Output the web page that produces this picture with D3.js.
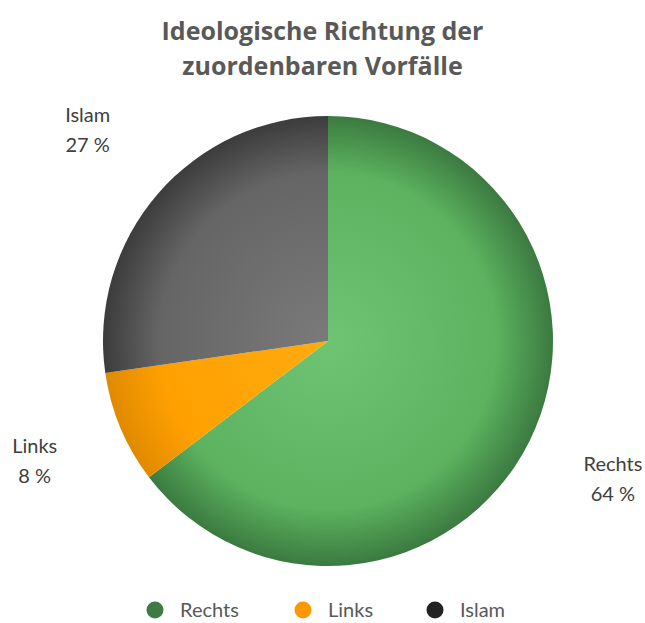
<!DOCTYPE html>
<html>
<head>
<meta charset="utf-8">
<script src="https://cdn.jsdelivr.net/npm/d3@7"></script>
<style>
  html, body { margin: 0; padding: 0; background: #fff; }
  svg { display: block; }
</style>
</head>
<body>
<script>
// Ideological direction of attributable incidents
const categories = ["Rechts", "Links", "Islam"];
const shares = [64, 8, 27];
const valueLabels = ["64 %", "8 %", "27 %"];
const titleLines = ["Ideologische Richtung der", "zuordenbaren Vorfälle"];

const W = 645, H = 623;
const cx = 328, cy = 341, R = 225, labelR = 318;

// light centre, mid tone, dark rim for each slice
const shades = {
  Rechts: ["#6fc474", "#5cb25f", "#3b7a40"],
  Links:  ["#ffab10", "#ffa000", "#e08a00"],
  Islam:  ["#7a7a7a", "#656565", "#3c3c3c"]
};
const legendColors = { Rechts: "#3f7a45", Links: "#ff9800", Islam: "#222222" };
const labelFont = "Lato, 'Open Sans', sans-serif";

const svg = d3.select("body").append("svg")
  .attr("width", W).attr("height", H);

const defs = svg.append("defs");
categories.forEach((c, i) => {
  const g = defs.append("radialGradient")
    .attr("id", "grad" + i)
    .attr("gradientUnits", "userSpaceOnUse")
    .attr("cx", 0).attr("cy", 0).attr("r", R)
    .attr("fx", 0).attr("fy", 0);
  g.append("stop").attr("offset", "0%").attr("stop-color", shades[c][0]);
  g.append("stop").attr("offset", "75%").attr("stop-color", shades[c][1]);
  g.append("stop").attr("offset", "100%").attr("stop-color", shades[c][2]);
});

// title
svg.append("text")
  .attr("x", W / 2).attr("y", 40)
  .attr("text-anchor", "middle")
  .attr("font-family", "'Open Sans', sans-serif")
  .attr("font-weight", 700)
  .attr("font-size", 25)
  .attr("fill", "#595959")
  .selectAll("tspan").data(titleLines).join("tspan")
  .attr("x", W / 2)
  .attr("dy", (d, i) => i === 0 ? 0 : 35)
  .text(d => d);

const data = categories.map((c, i) => ({ cat: c, value: shares[i], label: valueLabels[i], idx: i }));
const pie = d3.pie().value(d => d.value).sort(null);
const arcs = pie(data);
const arc = d3.arc().innerRadius(0).outerRadius(R);
const labelArc = d3.arc().innerRadius(labelR).outerRadius(labelR);

const g = svg.append("g").attr("transform", `translate(${cx},${cy})`);
g.selectAll("path").data(arcs).join("path")
  .attr("d", arc)
  .attr("fill", d => `url(#grad${d.data.idx})`);

// slice labels
const lab = svg.append("g").attr("transform", `translate(${cx},${cy})`);
arcs.forEach(d => {
  const [x, y] = labelArc.centroid(d);
  const t = lab.append("text")
    .attr("x", x).attr("y", y - 11)
    .attr("text-anchor", "middle")
    .attr("font-family", labelFont)
    .attr("font-size", 20)
    .attr("fill", "#404040");
  t.append("tspan").attr("x", x).text(d.data.cat);
  t.append("tspan").attr("x", x).attr("dy", 30).text(d.data.label);
});

// legend
const legendX = [155, 303, 435];
const lg = svg.append("g");
categories.forEach((c, i) => {
  lg.append("circle")
    .attr("cx", legendX[i]).attr("cy", 610).attr("r", 8.5)
    .attr("fill", legendColors[c]);
  lg.append("text")
    .attr("x", legendX[i] + 25).attr("y", 617)
    .attr("font-family", labelFont)
    .attr("font-size", 20)
    .attr("fill", "#595959")
    .text(c);
});
</script>
</body>
</html>
